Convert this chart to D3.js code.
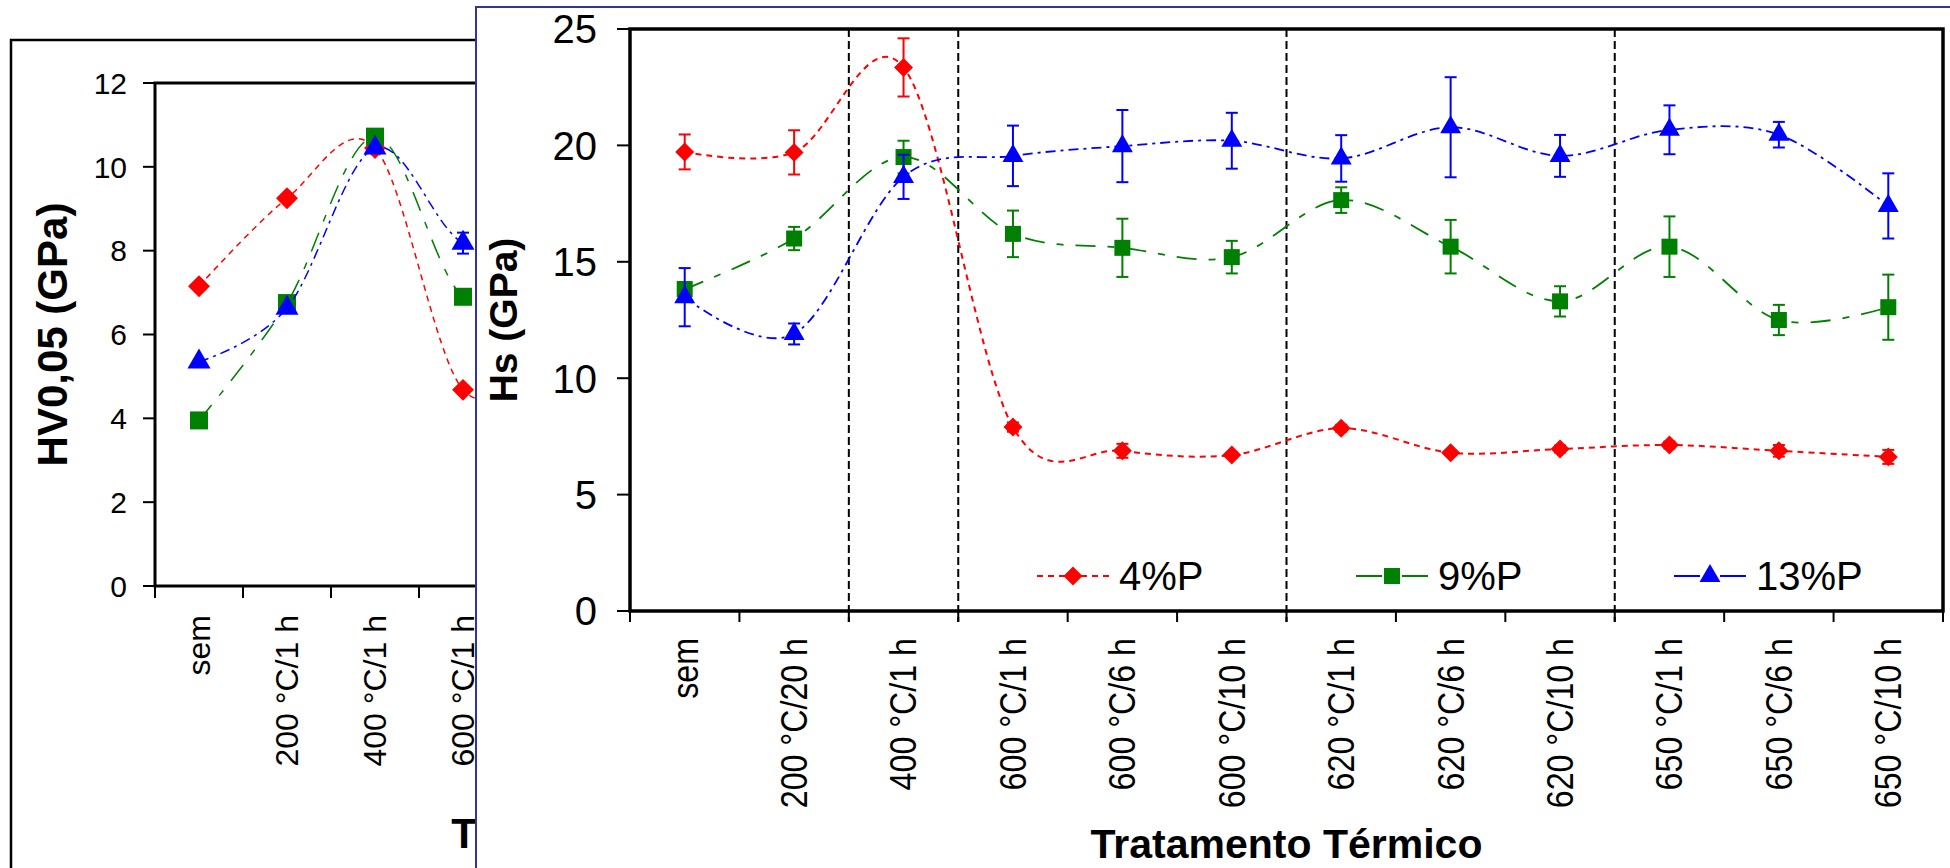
<!DOCTYPE html>
<html>
<head>
<meta charset="utf-8">
<script src="https://cdnjs.cloudflare.com/ajax/libs/d3/7.8.5/d3.min.js"></script>
<style>
  body { margin: 0; background: #fff; }
  text { font-family: "Liberation Sans", Arial, sans-serif; fill: #000; }
</style>
</head>
<body>
<div id="chart"></div>
<script>
// left chart (partly hidden behind the main one): HV0,05
var leftCats = ["sem", "200 °C/1 h", "400 °C/1 h", "600 °C/1 h", "620 °C/1 h"];
var leftTicks = [0, 2, 4, 6, 8, 10, 12];
var hv4 = [7.15, 9.25, 10.45, 4.68, 5.5];
var hv9 = [3.95, 6.75, 10.72, 6.9, 7.2];
var hv13 = [5.35, 6.63, 10.45, 8.18, 8.2];
var hv13err = [0, 0, 0, 0.25, 0];

// main chart: Hs
var cats = ["sem", "200 °C/20 h", "400 °C/1 h", "600 °C/1 h", "600 °C/6 h", "600 °C/10 h",
            "620 °C/1 h", "620 °C/6 h", "620 °C/10 h", "650 °C/1 h", "650 °C/6 h", "650 °C/10 h"];
var hsTicks = [0, 5, 10, 15, 20, 25];
var groupStarts = ["400 °C/1 h", "600 °C/1 h", "620 °C/1 h", "650 °C/1 h"];
var seriesNames = ["4%P", "9%P", "13%P"];
var hs4 = [19.72, 19.7, 23.35, 7.9, 6.88, 6.7, 7.85, 6.8, 6.96, 7.13, 6.88, 6.62];
var hs4err = [0.75, 0.95, 1.25, 0.2, 0.3, 0.1, 0.15, 0.1, 0.15, 0.15, 0.25, 0.3];
var hs9 = [13.83, 16.0, 19.5, 16.2, 15.6, 15.2, 17.65, 15.65, 13.3, 15.65, 12.5, 13.05];
var hs9err = [0.3, 0.5, 0.7, 1.0, 1.25, 0.7, 0.55, 1.15, 0.65, 1.3, 0.65, 1.4];
var hs13 = [13.48, 11.9, 18.65, 19.55, 19.97, 20.2, 19.44, 20.78, 19.55, 20.67, 20.46, 17.4];
var hs13err = [1.25, 0.45, 0.95, 1.3, 1.55, 1.2, 1.0, 2.15, 0.9, 1.05, 0.55, 1.4];

var colors = ["#ff0000", "#008000", "#0000ff"];
var dashes = ["6,5", "20,12,7,12", "10,5,3,5"];

var svg = d3.select("#chart").append("svg")
  .attr("width", 1950)
  .attr("height", 868);

svg.append("rect").attr("width", 1950).attr("height", 868).attr("fill", "#fff");

// draw one series: curve, error bars, markers
function drawSeries(g, x, y, values, errs, k, msize, lw) {
  var bw = x.bandwidth();
  var cx = function(i, list) { return x(list[i]) + bw / 2; };
  var domain = x.domain();

  var line = d3.line()
    .x(function(d, i) { return cx(i, domain); })
    .y(function(d) { return y(d); })
    .curve(d3.curveCatmullRom.alpha(0));

  g.append("path")
    .attr("d", line(values))
    .attr("fill", "none")
    .attr("stroke", colors[k])
    .attr("stroke-width", lw)
    .attr("stroke-dasharray", dashes[k]);

  if (errs) {
    values.forEach(function(v, i) {
      if (!errs[i]) return;
      var px = cx(i, domain);
      var eg = g.append("g").attr("stroke", colors[k]).attr("stroke-width", 2);
      eg.append("line").attr("x1", px).attr("x2", px).attr("y1", y(v - errs[i])).attr("y2", y(v + errs[i]));
      eg.append("line").attr("x1", px - 6).attr("x2", px + 6).attr("y1", y(v - errs[i])).attr("y2", y(v - errs[i]));
      eg.append("line").attr("x1", px - 6).attr("x2", px + 6).attr("y1", y(v + errs[i])).attr("y2", y(v + errs[i]));
    });
  }

  values.forEach(function(v, i) {
    drawMarker(g, cx(i, domain), y(v), k, msize);
  });
}

function drawMarker(g, px, py, k, msize) {
  var types = [d3.symbolSquare, d3.symbolSquare, d3.symbolTriangle];
  var rot = k === 0 ? " rotate(45)" : "";
  g.append("path")
    .attr("d", d3.symbol().type(types[k]).size(msize[k])())
    .attr("transform", "translate(" + px + "," + py + ")" + rot)
    .attr("fill", colors[k]);
}

function rotatedLabels(g, x, labels, yTop, size, sx) {
  g.selectAll(null)
    .data(labels)
    .enter()
    .append("text")
    .attr("transform", function(d) {
      return "translate(" + (x(d) + x.bandwidth() / 2) + "," + yTop + ") rotate(-90) scale(" + sx + ",1)";
    })
    .attr("text-anchor", "end")
    .attr("dy", "0.35em")
    .style("font-size", size + "px")
    .text(function(d) { return d; });
}

// ---------------- left chart ----------------
var left = svg.append("g");
left.append("rect")
  .attr("x", 11).attr("y", 40).attr("width", 2000).attr("height", 2000)
  .attr("fill", "#fff").attr("stroke", "#000").attr("stroke-width", 2.5);

var lx = d3.scaleBand().domain(leftCats).range([155, 155 + leftCats.length * 88]);
var ly = d3.scaleLinear().domain([0, 12]).range([586, 83]);
var lPlotW = 994;

left.append("rect")
  .attr("x", 155).attr("y", ly(12)).attr("width", lPlotW).attr("height", ly(0) - ly(12))
  .attr("fill", "none").attr("stroke", "#000").attr("stroke-width", 3);

left.selectAll(null).data(leftTicks).enter().append("line")
  .attr("x1", 143).attr("x2", 155)
  .attr("y1", function(d) { return ly(d); }).attr("y2", function(d) { return ly(d); })
  .attr("stroke", "#000").attr("stroke-width", 2);
left.selectAll(null).data(leftTicks).enter().append("text")
  .attr("x", 127).attr("y", function(d) { return ly(d); })
  .attr("dy", "0.36em").attr("text-anchor", "end")
  .style("font-size", "30px")
  .text(function(d) { return d; });

left.selectAll(null).data(leftCats).enter().append("line")
  .attr("x1", function(d) { return lx(d); }).attr("x2", function(d) { return lx(d); })
  .attr("y1", ly(0)).attr("y2", ly(0) + 12)
  .attr("stroke", "#000").attr("stroke-width", 2);
rotatedLabels(left, lx, leftCats, 615, 32, 1);

left.append("text")
  .attr("transform", "translate(67," + (ly(6)) + ") rotate(-90)")
  .attr("text-anchor", "middle")
  .style("font-size", "42px").style("font-weight", "bold")
  .text("HV0,05 (GPa)");
left.append("text")
  .attr("x", 155 + lPlotW / 2).attr("y", 848)
  .attr("text-anchor", "middle")
  .style("font-size", "42px").style("font-weight", "bold")
  .text("Tratamento Térmico");

var lMsize = [240, 324, 230];
drawSeries(left, lx, ly, hv4, null, 0, lMsize, 1.5);
drawSeries(left, lx, ly, hv9, null, 1, lMsize, 1.5);
drawSeries(left, lx, ly, hv13, hv13err, 2, lMsize, 1.5);

// ---------------- main chart ----------------
var main = svg.append("g");
main.append("rect")
  .attr("x", 476).attr("y", 7).attr("width", 1600).attr("height", 1000)
  .attr("fill", "#fff").attr("stroke", "#333399").attr("stroke-width", 2);

var x = d3.scaleBand().domain(cats).range([630, 1943]);
var y = d3.scaleLinear().domain([0, 25]).range([611, 29]);

main.append("rect")
  .attr("x", 630).attr("y", y(25)).attr("width", 1943 - 630).attr("height", y(0) - y(25))
  .attr("fill", "none").attr("stroke", "#000").attr("stroke-width", 3.5);

// group separators
main.selectAll(null).data(groupStarts).enter().append("line")
  .attr("x1", function(d) { return x(d); }).attr("x2", function(d) { return x(d); })
  .attr("y1", y(25)).attr("y2", y(0) + 11)
  .attr("stroke", "#000").attr("stroke-width", 2).attr("stroke-dasharray", "8,4");

main.selectAll(null).data(hsTicks).enter().append("line")
  .attr("x1", 617).attr("x2", 630)
  .attr("y1", function(d) { return y(d); }).attr("y2", function(d) { return y(d); })
  .attr("stroke", "#000").attr("stroke-width", 2);
main.selectAll(null).data(hsTicks).enter().append("text")
  .attr("x", 597).attr("y", function(d) { return y(d); })
  .attr("dy", "0.36em").attr("text-anchor", "end")
  .style("font-size", "40px")
  .text(function(d) { return d; });

main.selectAll(null).data(cats.concat(["end"])).enter().append("line")
  .attr("x1", function(d, i) { return i < cats.length ? x(d) : 1943; })
  .attr("x2", function(d, i) { return i < cats.length ? x(d) : 1943; })
  .attr("y1", y(0)).attr("y2", y(0) + 11)
  .attr("stroke", "#000").attr("stroke-width", 2);
rotatedLabels(main, x, cats, 638, 37, 0.87);

main.append("text")
  .attr("transform", "translate(517," + y(12.5) + ") rotate(-90)")
  .attr("text-anchor", "middle")
  .style("font-size", "39px").style("font-weight", "bold")
  .text("Hs (GPa)");
main.append("text")
  .attr("x", (630 + 1943) / 2).attr("y", 858)
  .attr("text-anchor", "middle")
  .style("font-size", "41px").style("font-weight", "bold")
  .text("Tratamento Térmico");

var mMsize = [180, 256, 190];
drawSeries(main, x, y, hs4, hs4err, 0, mMsize, 2);
drawSeries(main, x, y, hs9, hs9err, 1, mMsize, 1.8);
drawSeries(main, x, y, hs13, hs13err, 2, mMsize, 1.8);

// legend
var legendX = [1037, 1356, 1674];
var legendY = 576;
seriesNames.forEach(function(name, k) {
  var lg = main.append("g");
  lg.append("line")
    .attr("x1", legendX[k]).attr("x2", legendX[k] + 72)
    .attr("y1", legendY).attr("y2", legendY)
    .attr("stroke", colors[k]).attr("stroke-width", 2)
    .attr("stroke-dasharray", k === 0 ? "6,5" : "26,20");
  drawMarker(lg, legendX[k] + 36, legendY, k, mMsize);
  lg.append("text")
    .attr("x", legendX[k] + 82).attr("y", legendY)
    .attr("dy", "0.36em")
    .style("font-size", "40px")
    .text(name);
});
</script>
</body>
</html>
